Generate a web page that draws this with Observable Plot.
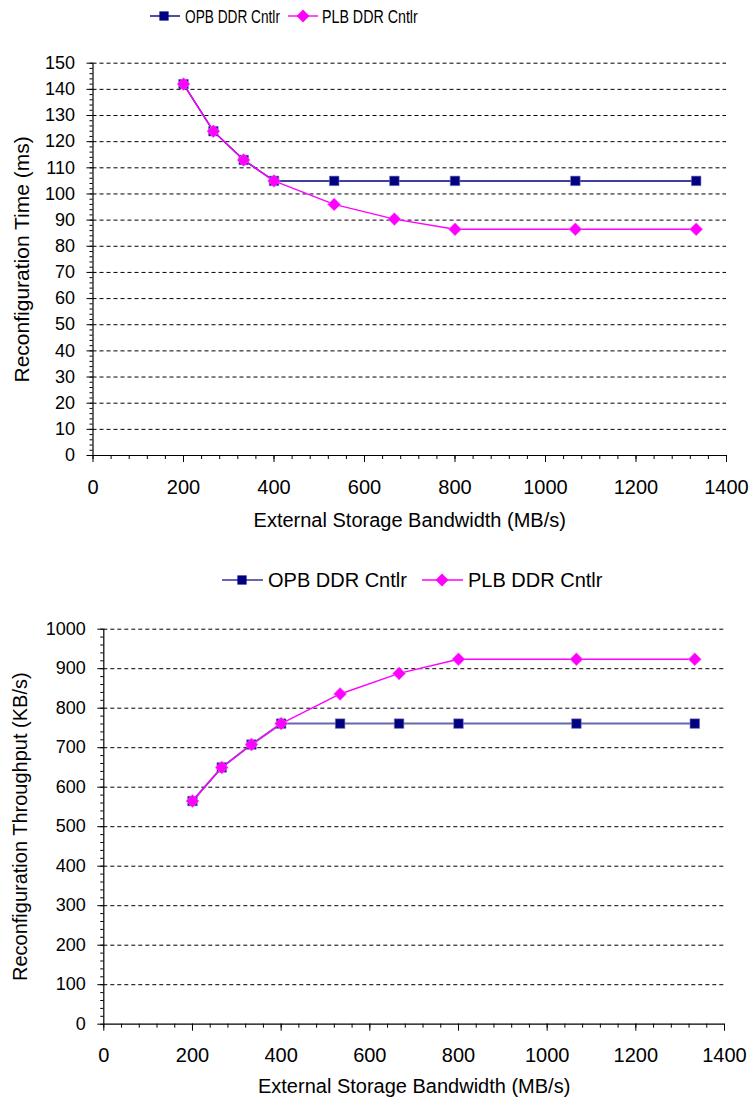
<!DOCTYPE html>
<html>
<head>
<meta charset="utf-8">
<script src="https://cdn.jsdelivr.net/npm/d3@7"></script>
<script src="https://cdn.jsdelivr.net/npm/@observablehq/plot@0.6"></script>
<style>
  body { margin: 0; background: white; }
  #wrap { position: relative; width: 751px; height: 1102px; font-family: "Liberation Sans", Arial, sans-serif; }
  .leg { position: relative; width: 751px; }
  svg { display: block; }
</style>
</head>
<body>
<div id="wrap">
  <div id="leg1" class="leg" style="height:36px"></div>
  <div id="c1"></div>
  <div id="leg2" class="leg" style="height:46px"></div>
  <div id="c2"></div>
</div>
<script>
// ---- data ----
const bandwidth = [200, 266, 333, 400, 533, 666, 800, 1066, 1333];
const opbTime = [142, 124, 113, 105, 105, 105, 105, 105, 105];
const plbTime = [142, 124, 113, 105, 96, 90.4, 86.5, 86.5, 86.5];
const opbThroughput = [565, 650, 708, 761, 761, 761, 761, 761, 761];
const plbThroughput = [565, 650, 708, 761, 836, 888, 924, 924, 924];
const seriesNames = ["OPB DDR Cntlr", "PLB DDR Cntlr"];
const xTicks = [0, 200, 400, 600, 800, 1000, 1200, 1400];
const timeTicks = [0, 10, 20, 30, 40, 50, 60, 70, 80, 90, 100, 110, 120, 130, 140, 150];
const throughputTicks = [0, 100, 200, 300, 400, 500, 600, 700, 800, 900, 1000];
const xLabel = "External Storage Bandwidth (MB/s)";
const timeLabel = "Reconfiguration Time (ms)";
const throughputLabel = "Reconfiguration Throughput (KB/s)";

const NAVY = "#000080", MAGENTA = "#FF00FF";
const FONT = "'Liberation Sans', Arial, sans-serif";
const fmt = d3.format("d");

function rows(ys) { return bandwidth.map((x, i) => ({x, y: ys[i]})); }

function minorFrom(ticks, n) {
  const out = [];
  for (let i = 0; i < ticks.length - 1; i++) {
    const step = (ticks[i + 1] - ticks[i]) / n;
    for (let k = 0; k < n; k++) out.push(ticks[i] + k * step);
  }
  out.push(ticks[ticks.length - 1]);
  return out;
}

function chart({height, marginTop, marginBottom, marginLeft, marginRight, yTicks, yLabel, opb, plb, opbStyle, yTitleDx, xTitleDy, yTitleSize}) {
  const yMax = yTicks[yTicks.length - 1];
  return Plot.plot({
    width: 751, height, marginTop, marginBottom, marginLeft, marginRight,
    x: {domain: [0, 1400]},
    y: {domain: [0, yMax]},
    style: {fontFamily: FONT, fontSize: "18px", color: "black", background: "white", overflow: "visible"},
    marks: [
      Plot.gridY(yTicks.filter(d => d !== 0), {stroke: "black", strokeOpacity: 1, strokeWidth: 1, strokeDasharray: "4,3"}),
      Plot.axisY(minorFrom(yTicks, 5), {tickSize: 3, tickFormat: () => "", label: null}),
      Plot.axisY(yTicks, {tickSize: 6, tickPadding: 12, tickFormat: fmt, label: null, fontSize: 18}),
      Plot.axisX(minorFrom(xTicks, 5), {tickSize: 4, tickFormat: () => "", label: null}),
      Plot.axisX(xTicks, {tickSize: 7, tickPadding: 17, tickFormat: fmt, label: null, fontSize: 20}),
      Plot.text([yLabel], {frameAnchor: "left", rotate: -90, dx: yTitleDx, fontSize: yTitleSize, text: d => d, fill: "black", textAnchor: "middle", lineAnchor: "middle"}),
      Plot.text([xLabel], {frameAnchor: "bottom", dy: xTitleDy, fontSize: 20, text: d => d, fill: "black", textAnchor: "middle", lineAnchor: "middle"}),
      Plot.ruleY([0], {stroke: "black", strokeWidth: 1.2}),
      Plot.ruleX([0], {stroke: "black", strokeWidth: 1.2}),
      Plot.line(rows(opb), {x: "x", y: "y", stroke: NAVY, strokeWidth: opbStyle.w, strokeOpacity: opbStyle.o}),
      Plot.dot(rows(opb), {x: "x", y: "y", symbol: "square", r: 5.4, fill: NAVY, stroke: "#7878c0", strokeWidth: 0.6}),
      Plot.line(rows(plb), {x: "x", y: "y", stroke: MAGENTA, strokeWidth: 1.4}),
      Plot.dot(rows(plb), {x: "x", y: "y", symbol: "diamond2", r: 5.8, fill: MAGENTA, stroke: "#ff66ff", strokeWidth: 0.6})
    ]
  });
}

function legend(el, h, cy, items) {
  const ns = "http://www.w3.org/2000/svg";
  const svg = document.createElementNS(ns, "svg");
  svg.setAttribute("width", 751); svg.setAttribute("height", h);
  svg.style.position = "absolute"; svg.style.left = "0"; svg.style.top = "0";
  for (const it of items) {
    const line = document.createElementNS(ns, "line");
    line.setAttribute("x1", it.x1); line.setAttribute("x2", it.x2);
    line.setAttribute("y1", cy); line.setAttribute("y2", cy);
    line.setAttribute("stroke", it.color); line.setAttribute("stroke-width", it.lw || 1.4);
    if (it.lo) line.setAttribute("stroke-opacity", it.lo);
    svg.appendChild(line);
    const sym = d3.symbol(it.symbol === "square" ? d3.symbolSquare : d3.symbolDiamond2, it.size)();
    const p = document.createElementNS(ns, "path");
    p.setAttribute("d", sym);
    p.setAttribute("transform", `translate(${it.mx},${cy})`);
    p.setAttribute("fill", it.color);
    svg.appendChild(p);
    const t = document.createElementNS(ns, "text");
    t.setAttribute("x", 0); t.setAttribute("y", 0);
    t.setAttribute("dy", "0.36em");
    t.setAttribute("font-family", FONT);
    t.setAttribute("font-size", it.fs);
    t.setAttribute("transform", `translate(${it.tx},${cy}) scale(${it.sx || 1},1)`);
    t.textContent = it.label;
    svg.appendChild(t);
  }
  el.appendChild(svg);
}

legend(document.getElementById("leg1"), 36, 16, [
  {label: seriesNames[0], color: NAVY, symbol: "square", size: 85, x1: 150, x2: 180, mx: 164, tx: 185, fs: 19, sx: 0.72},
  {label: seriesNames[1], color: MAGENTA, symbol: "diamond", size: 105, x1: 288, x2: 318, mx: 303, tx: 322, fs: 19, sx: 0.75}
]);
legend(document.getElementById("leg2"), 46, 25, [
  {label: seriesNames[0], color: NAVY, symbol: "square", size: 85, x1: 222, x2: 263, mx: 242, tx: 268, fs: 20, lo: 0.6, lw: 2},
  {label: seriesNames[1], color: MAGENTA, symbol: "diamond", size: 105, x1: 422, x2: 463, mx: 442, tx: 468, fs: 20}
]);

document.getElementById("c1").appendChild(chart({
  height: 519, marginTop: 26.7, marginBottom: 100, marginLeft: 92.5, marginRight: 25,
  yTicks: timeTicks, yLabel: timeLabel, opb: opbTime, plb: plbTime,
  opbStyle: {w: 1.5, o: 1}, yTitleDx: -71, xTitleDy: 65, yTitleSize: 21
}));
document.getElementById("c2").appendChild(chart({
  height: 501, marginTop: 27.7, marginBottom: 78.3, marginLeft: 103.3, marginRight: 27,
  yTicks: throughputTicks, yLabel: throughputLabel, opb: opbThroughput, plb: plbThroughput,
  opbStyle: {w: 2, o: 0.6}, yTitleDx: -83, xTitleDy: 62, yTitleSize: 20
}));
</script>
</body>
</html>
